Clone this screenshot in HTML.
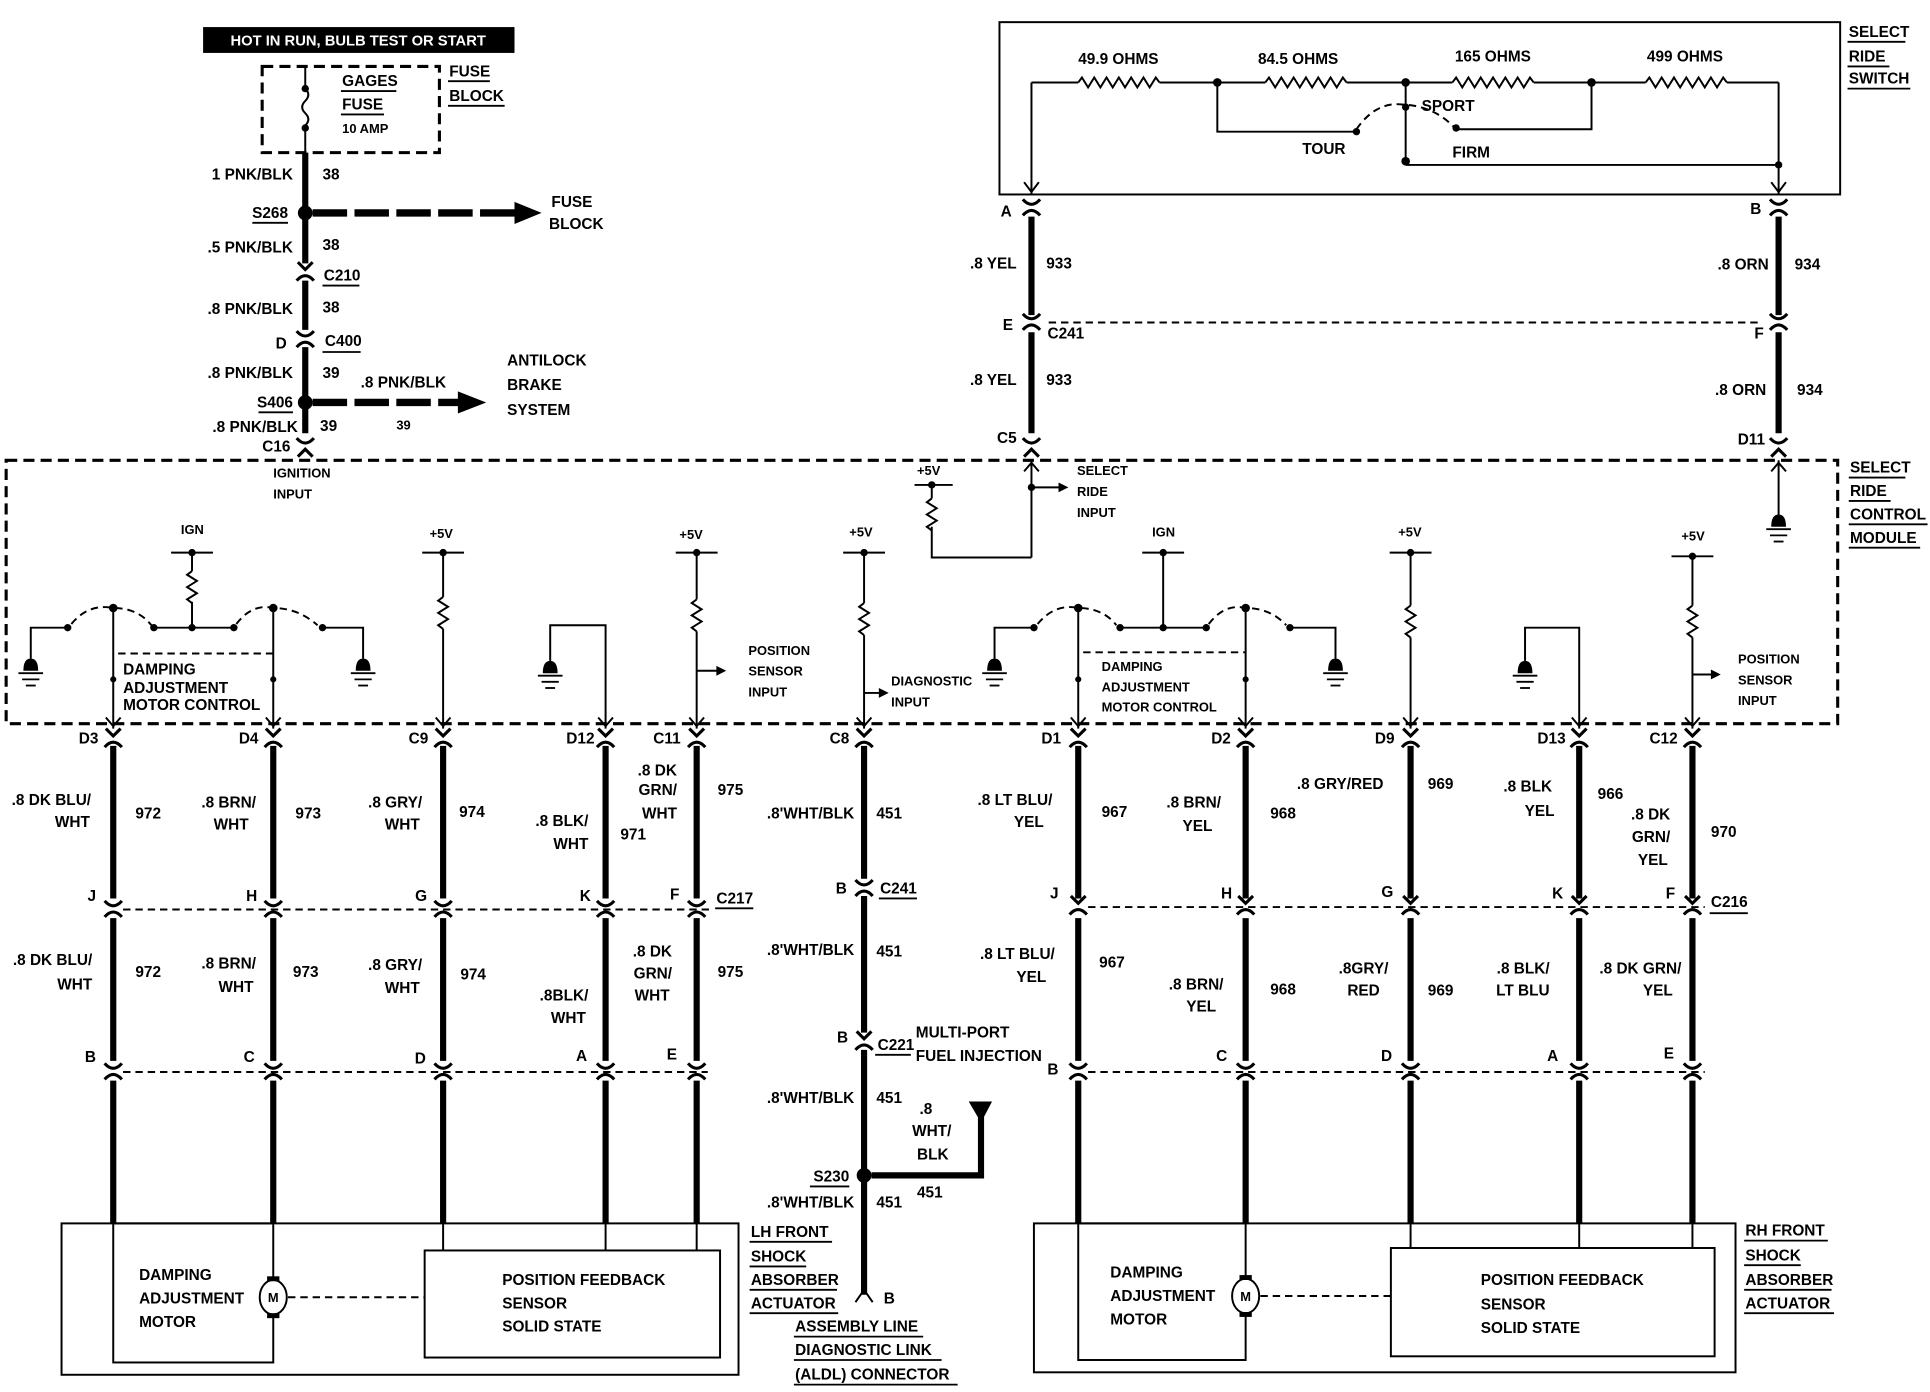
<!DOCTYPE html>
<html><head><meta charset="utf-8"><style>
html,body{margin:0;padding:0;background:#fff}
svg{display:block}
text{font-family:"Liberation Sans Narrow","Liberation Sans",sans-serif;font-weight:bold;font-size:12.5px;fill:#000}
.s{font-size:10.5px}
.t{stroke:#000;stroke-width:1.6;fill:none}
.w{stroke:#000;stroke-width:5;fill:none}
.d{stroke:#000;stroke-width:1.6;fill:none;stroke-dasharray:6,4}
.bd{stroke:#000;stroke-width:2.5;fill:none;stroke-dasharray:9,5}
.u{stroke:#000;stroke-width:1.5}
</style></head><body>
<svg width="1930" height="1392" viewBox="0 0 1568 1131" preserveAspectRatio="none" xmlns="http://www.w3.org/2000/svg">
<defs>
<g id="cn"><path d="M-6,-9 L0,-3 L6,-9" stroke="#000" stroke-width="2.5" fill="none"/><path d="M-7,6 Q0,-2 7,6" stroke="#000" stroke-width="2.5" fill="none"/></g>
<g id="cu"><path d="M-7,-7 Q0,1 7,-7" stroke="#000" stroke-width="2.5" fill="none"/><path d="M-7,6 Q0,-2 7,6" stroke="#000" stroke-width="2.5" fill="none"/></g>
<g id="gnd"><path d="M-6,0 Q-6,-10 0,-10 Q6,-10 6,0 Z" fill="#000"/><line x1="-10" y1="2" x2="10" y2="2" class="u" stroke-width="2"/><line x1="-7" y1="7" x2="7" y2="7" class="u" stroke-width="2"/><line x1="-4" y1="12" x2="4" y2="12" class="u" stroke-width="2"/></g>
<path id="res" d="M0,0 l-4,3 l8,5 l-8,5 l8,5 l-8,5 l4,3" stroke="#000" stroke-width="1.6" fill="none"/>
<polyline id="hres" points="0,0 3,-4 8,4 13,-4 18,4 23,-4 28,4 33,-4 38,4 43,-4 48,4 53,-4 58,4 63,-4 66,0" stroke="#000" stroke-width="1.6" fill="none"/>
</defs>

<!-- top left supply -->
<rect x="165" y="22" width="253" height="21" fill="#000"/>
<text x="291" y="37" text-anchor="middle" style="fill:#fff;font-family:'Liberation Sans',sans-serif;font-size:12px">HOT IN RUN, BULB TEST OR START</text>
<rect x="213" y="54" width="144" height="70" class="bd" stroke-width="2"/>
<line x1="248" y1="54" x2="248" y2="70" class="t"/><circle cx="248" cy="72" r="3"/>
<path d="M248,72 q5,5 0,10 q-5,5 0,10 q5,5 0,10" class="t"/><circle cx="248" cy="104" r="3"/>
<line x1="248" y1="104" x2="248" y2="124" class="t"/>
<text x="278" y="70">GAGES</text><line x1="277" y1="74" x2="322" y2="74" class="u"/>
<text x="278" y="89">FUSE</text><line x1="277" y1="93" x2="312" y2="93" class="u"/>
<text x="278" y="108" class="s">10 AMP</text>
<text x="365" y="62">FUSE</text><line x1="364" y1="66" x2="398" y2="66" class="u"/>
<text x="365" y="82">BLOCK</text><line x1="364" y1="86" x2="410" y2="86" class="u"/>
<line x1="248" y1="124" x2="248" y2="214" class="w"/>
<line x1="248" y1="228" x2="248" y2="268" class="w"/>
<line x1="248" y1="282" x2="248" y2="352" class="w"/>
<circle cx="248" cy="173" r="6"/><circle cx="248" cy="327" r="6"/>
<path d="M254,173 H420" stroke="#000" stroke-width="6" stroke-dasharray="28,6"/><path d="M418,164 L440,173 L418,182Z"/>
<path d="M254,327 H375" stroke="#000" stroke-width="6" stroke-dasharray="28,6"/><path d="M372,318 L395,327 L372,336Z"/>
<use href="#cn" x="248" y="222"/><use href="#cu" transform="translate(248,275) rotate(180)"/><use href="#cn" transform="translate(248,362) rotate(180)"/>
<text x="238" y="146" text-anchor="end">1 PNK/BLK</text><text x="262" y="146">38</text>
<text x="234" y="177" text-anchor="end">S268</text><line x1="205" y1="181" x2="234" y2="181" class="u"/>
<text x="448" y="168">FUSE</text><text x="446" y="186">BLOCK</text>
<text x="238" y="205" text-anchor="end">.5 PNK/BLK</text><text x="262" y="203">38</text>
<text x="263" y="228">C210</text><line x1="262" y1="232" x2="292" y2="232" class="u"/>
<text x="238" y="255" text-anchor="end">.8 PNK/BLK</text><text x="262" y="254">38</text>
<text x="233" y="283" text-anchor="end">D</text><text x="264" y="281">C400</text><line x1="262" y1="286" x2="293" y2="286" class="u"/>
<text x="238" y="307" text-anchor="end">.8 PNK/BLK</text><text x="262" y="307">39</text>
<text x="293" y="315">.8 PNK/BLK</text>
<text x="412" y="297">ANTILOCK</text><text x="412" y="317">BRAKE</text><text x="412" y="337">SYSTEM</text>
<text x="238" y="331" text-anchor="end">S406</text><line x1="210" y1="335" x2="238" y2="335" class="u"/>
<text x="242" y="351" text-anchor="end">.8 PNK/BLK</text><text x="260" y="350">39</text><text x="322" y="349" class="s">39</text>
<text x="236" y="367" text-anchor="end">C16</text>
<text x="222" y="388" class="s">IGNITION</text><text x="222" y="405" class="s">INPUT</text>

<!-- select ride switch -->
<rect x="812" y="18" width="683" height="140" class="t" stroke-width="2"/>
<text x="1502" y="30">SELECT</text><line x1="1501" y1="34" x2="1548" y2="34" class="u"/>
<text x="1502" y="50">RIDE</text><line x1="1501" y1="54" x2="1535" y2="54" class="u"/>
<text x="1502" y="68">SWITCH</text><line x1="1501" y1="72" x2="1552" y2="72" class="u"/>
<text x="876" y="52">49.9 OHMS</text><text x="1022" y="52">84.5 OHMS</text><text x="1182" y="50">165 OHMS</text><text x="1338" y="50">499 OHMS</text>
<line x1="838" y1="67" x2="876" y2="67" class="t"/><use href="#hres" x="876" y="67"/><line x1="942" y1="67" x2="1028" y2="67" class="t"/>
<use href="#hres" x="1028" y="67"/><line x1="1094" y1="67" x2="1180" y2="67" class="t"/>
<use href="#hres" x="1180" y="67"/><line x1="1246" y1="67" x2="1337" y2="67" class="t"/>
<use href="#hres" x="1337" y="67"/><line x1="1403" y1="67" x2="1445" y2="67" class="t"/>
<circle cx="989" cy="67" r="3.5"/><circle cx="1142" cy="67" r="3.5"/><circle cx="1293" cy="67" r="3.5"/>
<path d="M989,67 V107 H1102" class="t"/><path d="M1293,67 V105 H1185" class="t"/>
<line x1="1142" y1="67" x2="1142" y2="134" class="t"/><circle cx="1142" cy="87" r="3"/><circle cx="1142" cy="131" r="3.5"/>
<path d="M1102,105 Q1118,82 1140,85 Q1165,86 1182,104" class="d"/><circle cx="1102" cy="107" r="3"/><circle cx="1183" cy="104" r="3"/>
<line x1="1142" y1="134" x2="1445" y2="134" class="t"/>
<text x="1155" y="90">SPORT</text><text x="1058" y="125">TOUR</text><text x="1180" y="128">FIRM</text>
<line x1="838" y1="67" x2="838" y2="158" class="t"/><path d="M832,148 L838,156 L844,148" class="t"/>
<line x1="1445" y1="67" x2="1445" y2="158" class="t"/><circle cx="1445" cy="134" r="3"/><path d="M1439,148 L1445,156 L1451,148" class="t"/>
<use href="#cu" transform="translate(838,168) rotate(180)"/><use href="#cu" transform="translate(1445,168) rotate(180)"/>
<line x1="838" y1="176" x2="838" y2="256" class="w" stroke-width="3"/>
<line x1="838" y1="270" x2="838" y2="352" class="w" stroke-width="3"/>
<line x1="1445" y1="176" x2="1445" y2="256" class="w" stroke-width="6"/>
<line x1="1445" y1="270" x2="1445" y2="352" class="w" stroke-width="6"/>
<use href="#cu" x="838" y="262"/><use href="#cu" x="1445" y="262"/>
<use href="#cn" transform="translate(838,362) rotate(180)"/><use href="#cn" transform="translate(1445,362) rotate(180)"/>
<line x1="852" y1="262" x2="1432" y2="262" class="d"/>
<text x="822" y="176" text-anchor="end">A</text><text x="1431" y="174" text-anchor="end">B</text>
<text x="826" y="218" text-anchor="end">.8 YEL</text><text x="850" y="218">933</text>
<text x="1437" y="219" text-anchor="end">.8 ORN</text><text x="1458" y="219">934</text>
<text x="823" y="268" text-anchor="end">E</text><text x="851" y="275">C241</text>
<text x="1433" y="275" text-anchor="end">F</text>
<text x="826" y="313" text-anchor="end">.8 YEL</text><text x="850" y="313">933</text>
<text x="1435" y="321" text-anchor="end">.8 ORN</text><text x="1460" y="321">934</text>
<text x="826" y="360" text-anchor="end">C5</text><text x="1434" y="361" text-anchor="end">D11</text>

<!-- module dashed box -->
<rect x="5" y="374" width="1488" height="214" class="bd"/>
<text x="1503" y="384">SELECT</text><line x1="1502" y1="388" x2="1548" y2="388" class="u"/>
<text x="1503" y="403">RIDE</text><line x1="1502" y1="407" x2="1536" y2="407" class="u"/>
<text x="1503" y="422">CONTROL</text><line x1="1502" y1="426" x2="1566" y2="426" class="u"/>
<text x="1503" y="441">MODULE</text><line x1="1502" y1="445" x2="1560" y2="445" class="u"/>

<!-- C5 select ride input -->
<line x1="838" y1="374" x2="838" y2="453" class="t"/><path d="M832,383 L838,376 L844,383" class="t"/>
<circle cx="838" cy="396" r="3"/><line x1="838" y1="396" x2="862" y2="396" class="t"/><path d="M860,392 L868,396 L860,400Z"/>
<text x="875" y="386" class="s">SELECT</text><text x="875" y="403" class="s">RIDE</text><text x="875" y="420" class="s">INPUT</text>
<path d="M838,453 H757 V428" class="t"/><use href="#res" x="757" y="405"/><line x1="757" y1="394" x2="757" y2="405" class="t"/>
<line x1="743" y1="394" x2="774" y2="394" class="t"/><circle cx="757" cy="394" r="3"/><text x="745" y="386" class="s">+5V</text>
<!-- D11 ground -->
<line x1="1445" y1="374" x2="1445" y2="420" class="t"/><path d="M1439,383 L1445,376 L1451,383" class="t"/><use href="#gnd" x="1445" y="428"/>

<!-- left damping group -->
<use href="#gnd" x="25" y="545"/><path d="M25,535 V510 H55" class="t"/>
<circle cx="55" cy="510" r="3"/><path d="M58,507 Q72,490 92,494 Q112,494 123,508" class="d"/><circle cx="125" cy="510" r="3"/>
<circle cx="92" cy="494" r="3.5"/><line x1="92" y1="494" x2="92" y2="592" class="t"/>
<line x1="125" y1="510" x2="190" y2="510" class="t"/><circle cx="156" cy="510" r="3"/>
<line x1="156" y1="510" x2="156" y2="489" class="t"/><use href="#res" x="156" y="464"/><line x1="156" y1="449" x2="156" y2="464" class="t"/>
<line x1="139" y1="449" x2="173" y2="449" class="t"/><circle cx="156" cy="449" r="3"/><text x="147" y="434" class="s">IGN</text>
<circle cx="190" cy="510" r="3"/><path d="M192,507 Q205,490 222,494 Q242,494 258,508" class="d"/><circle cx="262" cy="510" r="3"/>
<circle cx="222" cy="494" r="3.5"/><line x1="222" y1="494" x2="222" y2="592" class="t"/>
<path d="M262,510 H295 V535" class="t"/><use href="#gnd" x="295" y="545"/>
<line x1="96" y1="531" x2="222" y2="531" class="d"/><circle cx="92" cy="552" r="2.5"/><circle cx="222" cy="552" r="2.5"/>
<text x="100" y="548">DAMPING</text><text x="100" y="563">ADJUSTMENT</text><text x="100" y="577">MOTOR CONTROL</text>

<!-- C9 -->
<line x1="343" y1="449" x2="377" y2="449" class="t"/><circle cx="360" cy="449" r="3"/><text x="349" y="437" class="s">+5V</text>
<line x1="360" y1="449" x2="360" y2="485" class="t"/><use href="#res" x="360" y="485"/><line x1="360" y1="511" x2="360" y2="592" class="t"/>
<!-- D12 -->
<use href="#gnd" x="447" y="547"/><path d="M447,537 V508 H492 V592" class="t"/>
<!-- C11 -->
<line x1="549" y1="449" x2="583" y2="449" class="t"/><circle cx="566" cy="449" r="3"/><text x="552" y="438" class="s">+5V</text>
<line x1="566" y1="449" x2="566" y2="487" class="t"/><use href="#res" x="566" y="487"/><line x1="566" y1="513" x2="566" y2="592" class="t"/>
<line x1="566" y1="545" x2="584" y2="545" class="t"/><path d="M582,541 L590,545 L582,549Z"/>
<text x="608" y="532" class="s">POSITION</text><text x="608" y="549" class="s">SENSOR</text><text x="608" y="566" class="s">INPUT</text>
<!-- C8 -->
<line x1="685" y1="449" x2="719" y2="449" class="t"/><circle cx="702" cy="449" r="3"/><text x="690" y="436" class="s">+5V</text>
<line x1="702" y1="449" x2="702" y2="490" class="t"/><use href="#res" x="702" y="490"/><line x1="702" y1="516" x2="702" y2="592" class="t"/>
<line x1="702" y1="563" x2="716" y2="563" class="t"/><path d="M714,559 L722,563 L714,567Z"/>
<text x="724" y="557" class="s">DIAGNOSTIC</text><text x="724" y="574" class="s">INPUT</text>

<!-- right damping group -->
<use href="#gnd" x="808" y="545"/><path d="M808,535 V510 H840" class="t"/>
<circle cx="840" cy="510" r="3"/><path d="M843,507 Q857,490 876,494 Q896,494 907,508" class="d"/><circle cx="910" cy="510" r="3"/>
<circle cx="876" cy="494" r="3.5"/><line x1="876" y1="494" x2="876" y2="592" class="t"/>
<line x1="910" y1="510" x2="980" y2="510" class="t"/><circle cx="945" cy="510" r="3"/>
<line x1="945" y1="449" x2="945" y2="510" class="t"/><line x1="928" y1="449" x2="962" y2="449" class="t"/><circle cx="945" cy="449" r="3"/><text x="936" y="436" class="s">IGN</text>
<circle cx="980" cy="510" r="3"/><path d="M982,507 Q995,490 1012,494 Q1032,494 1045,508" class="d"/><circle cx="1048" cy="510" r="3"/>
<circle cx="1012" cy="494" r="3.5"/><line x1="1012" y1="494" x2="1012" y2="592" class="t"/>
<path d="M1048,510 H1085 V535" class="t"/><use href="#gnd" x="1085" y="545"/>
<line x1="880" y1="530" x2="1012" y2="530" class="d"/><circle cx="876" cy="552" r="2.5"/><circle cx="1012" cy="552" r="2.5"/>
<text x="895" y="545" class="s">DAMPING</text><text x="895" y="562" class="s">ADJUSTMENT</text><text x="895" y="578" class="s">MOTOR CONTROL</text>
<!-- D9 -->
<line x1="1129" y1="449" x2="1163" y2="449" class="t"/><circle cx="1146" cy="449" r="3"/><text x="1136" y="436" class="s">+5V</text>
<line x1="1146" y1="449" x2="1146" y2="492" class="t"/><use href="#res" x="1146" y="492"/><line x1="1146" y1="518" x2="1146" y2="592" class="t"/>
<!-- D13 -->
<use href="#gnd" x="1239" y="547"/><path d="M1239,537 V510 H1283 V592" class="t"/>
<!-- C12 -->
<line x1="1358" y1="452" x2="1392" y2="452" class="t"/><circle cx="1375" cy="452" r="3"/><text x="1366" y="439" class="s">+5V</text>
<line x1="1375" y1="452" x2="1375" y2="492" class="t"/><use href="#res" x="1375" y="492"/><line x1="1375" y1="518" x2="1375" y2="592" class="t"/>
<line x1="1375" y1="548" x2="1392" y2="548" class="t"/><path d="M1390,544 L1398,548 L1390,552Z"/>
<text x="1412" y="539" class="s">POSITION</text><text x="1412" y="556" class="s">SENSOR</text><text x="1412" y="573" class="s">INPUT</text>

<!-- arrow heads into module bottom -->
<g class="t">
<path d="M86,583 L92,590 L98,583"/><path d="M216,583 L222,590 L228,583"/><path d="M354,583 L360,590 L366,583"/><path d="M486,583 L492,590 L498,583"/><path d="M560,583 L566,590 L572,583"/><path d="M696,583 L702,590 L708,583"/>
<path d="M870,583 L876,590 L882,583"/><path d="M1006,583 L1012,590 L1018,583"/><path d="M1140,583 L1146,590 L1152,583"/><path d="M1277,583 L1283,590 L1289,583"/><path d="M1369,583 L1375,590 L1381,583"/>
</g>

<!-- harness wires -->
<g class="w">
<path d="M92,606 V730 M92,746 V862 M92,878 V994"/>
<path d="M222,606 V730 M222,746 V862 M222,878 V994"/>
<path d="M360,606 V730 M360,746 V862 M360,878 V994"/>
<path d="M492,606 V730 M492,746 V862 M492,878 V994"/>
<path d="M566,606 V730 M566,746 V862 M566,878 V994"/>
<path d="M702,606 V714 M702,728 V839 M702,853 V1052"/>
<path d="M876,606 V730 M876,746 V862 M876,878 V994"/>
<path d="M1012,606 V730 M1012,746 V862 M1012,878 V994"/>
<path d="M1146,606 V730 M1146,746 V862 M1146,878 V994"/>
<path d="M1283,606 V730 M1283,746 V862 M1283,878 V994"/>
<path d="M1375,606 V730 M1375,746 V862 M1375,878 V994"/>
</g>
<g>
<use href="#cn" x="92" y="601"/><use href="#cn" x="222" y="601"/><use href="#cn" x="360" y="601"/><use href="#cn" x="492" y="601"/><use href="#cn" x="566" y="601"/><use href="#cn" x="702" y="601"/>
<use href="#cn" x="876" y="601"/><use href="#cn" x="1012" y="601"/><use href="#cn" x="1146" y="601"/><use href="#cn" x="1283" y="601"/><use href="#cn" x="1375" y="601"/>
<use href="#cu" transform="translate(92,738) rotate(180)"/><use href="#cu" transform="translate(222,738) rotate(180)"/><use href="#cu" transform="translate(360,738) rotate(180)"/><use href="#cu" transform="translate(492,738) rotate(180)"/><use href="#cu" transform="translate(566,738) rotate(180)"/>
<use href="#cn" x="876" y="737"/><use href="#cn" x="1012" y="737"/><use href="#cn" x="1146" y="737"/><use href="#cn" x="1283" y="737"/><use href="#cn" x="1375" y="737"/>
<use href="#cu" transform="translate(92,870) rotate(180)"/><use href="#cu" transform="translate(222,870) rotate(180)"/><use href="#cu" transform="translate(360,870) rotate(180)"/><use href="#cu" transform="translate(492,870) rotate(180)"/><use href="#cu" transform="translate(566,870) rotate(180)"/>
<use href="#cu" transform="translate(876,870) rotate(180)"/><use href="#cu" transform="translate(1012,870) rotate(180)"/><use href="#cu" transform="translate(1146,870) rotate(180)"/><use href="#cu" transform="translate(1283,870) rotate(180)"/><use href="#cu" transform="translate(1375,870) rotate(180)"/>
<use href="#cu" transform="translate(702,721) rotate(180)"/><use href="#cn" x="702" y="847"/>
</g>
<line x1="100" y1="739" x2="580" y2="739" class="d"/><line x1="100" y1="871" x2="575" y2="871" class="d"/>
<line x1="884" y1="737" x2="1385" y2="737" class="d"/><line x1="884" y1="871" x2="1385" y2="871" class="d"/>

<!-- LH labels -->
<text x="80" y="604" text-anchor="end">D3</text><text x="210" y="604" text-anchor="end">D4</text><text x="348" y="604" text-anchor="end">C9</text><text x="483" y="604" text-anchor="end">D12</text><text x="553" y="604" text-anchor="end">C11</text><text x="690" y="604" text-anchor="end">C8</text>
<text x="74" y="654" text-anchor="end">.8 DK BLU/</text><text x="73" y="672" text-anchor="end">WHT</text><text x="110" y="665">972</text>
<text x="208" y="656" text-anchor="end">.8 BRN/</text><text x="202" y="674" text-anchor="end">WHT</text><text x="240" y="665">973</text>
<text x="343" y="656" text-anchor="end">.8 GRY/</text><text x="341" y="674" text-anchor="end">WHT</text><text x="373" y="664">974</text>
<text x="478" y="671" text-anchor="end">.8 BLK/</text><text x="478" y="690" text-anchor="end">WHT</text><text x="504" y="682">971</text>
<text x="550" y="630" text-anchor="end">.8 DK</text><text x="550" y="646" text-anchor="end">GRN/</text><text x="550" y="665" text-anchor="end">WHT</text><text x="583" y="646">975</text>
<text x="694" y="665" text-anchor="end">.8'WHT/BLK</text><text x="712" y="665">451</text>
<text x="78" y="732" text-anchor="end">J</text><text x="209" y="732" text-anchor="end">H</text><text x="347" y="732" text-anchor="end">G</text><text x="480" y="732" text-anchor="end">K</text><text x="552" y="731" text-anchor="end">F</text>
<text x="582" y="734">C217</text><line x1="581" y1="738" x2="612" y2="738" class="u"/>
<text x="688" y="726" text-anchor="end">B</text><text x="715" y="726">C241</text><line x1="714" y1="730" x2="745" y2="730" class="u"/>
<text x="75" y="784" text-anchor="end">.8 DK BLU/</text><text x="75" y="804" text-anchor="end">WHT</text><text x="110" y="794">972</text>
<text x="208" y="787" text-anchor="end">.8 BRN/</text><text x="206" y="806" text-anchor="end">WHT</text><text x="238" y="794">973</text>
<text x="343" y="788" text-anchor="end">.8 GRY/</text><text x="341" y="807" text-anchor="end">WHT</text><text x="374" y="796">974</text>
<text x="478" y="813" text-anchor="end">.8BLK/</text><text x="476" y="831" text-anchor="end">WHT</text>
<text x="546" y="777" text-anchor="end">.8 DK</text><text x="546" y="795" text-anchor="end">GRN/</text><text x="544" y="813" text-anchor="end">WHT</text><text x="583" y="794">975</text>
<text x="694" y="776" text-anchor="end">.8'WHT/BLK</text><text x="712" y="777">451</text>
<text x="78" y="863" text-anchor="end">B</text><text x="207" y="863" text-anchor="end">C</text><text x="346" y="864" text-anchor="end">D</text><text x="477" y="862" text-anchor="end">A</text><text x="550" y="861" text-anchor="end">E</text>
<text x="689" y="847" text-anchor="end">B</text><text x="713" y="853">C221</text><line x1="711" y1="857" x2="740" y2="857" class="u"/>
<text x="744" y="843">MULTI-PORT</text><text x="744" y="862">FUEL INJECTION</text>
<text x="694" y="896" text-anchor="end">.8'WHT/BLK</text><text x="712" y="896">451</text>
<text x="747" y="905">.8</text><text x="741" y="923">WHT/</text><text x="745" y="942">BLK</text>
<circle cx="702" cy="955" r="6"/><text x="690" y="960" text-anchor="end">S230</text><line x1="658" y1="964" x2="690" y2="964" class="u"/>
<path d="M708,955 H797 V905" class="w" stroke-width="4"/><path d="M787,895 L797,912 L806,895Z"/>
<text x="745" y="973">451</text>
<text x="694" y="981" text-anchor="end">.8'WHT/BLK</text><text x="712" y="981">451</text>
<path d="M695,1058 L702,1048 L709,1058" class="t" stroke-width="2.5"/><text x="718" y="1059">B</text>
<text x="646" y="1082">ASSEMBLY LINE</text><line x1="645" y1="1086" x2="750" y2="1086" class="u"/>
<text x="646" y="1101">DIAGNOSTIC LINK</text><line x1="645" y1="1105" x2="765" y2="1105" class="u"/>
<text x="646" y="1121">(ALDL) CONNECTOR</text><line x1="645" y1="1125" x2="778" y2="1125" class="u"/>
<text x="610" y="1005">LH FRONT</text><line x1="609" y1="1009" x2="676" y2="1009" class="u"/>
<text x="610" y="1025">SHOCK</text><line x1="609" y1="1029" x2="655" y2="1029" class="u"/>
<text x="610" y="1044">ABSORBER</text><line x1="609" y1="1048" x2="680" y2="1048" class="u"/>
<text x="610" y="1063">ACTUATOR</text><line x1="609" y1="1067" x2="681" y2="1067" class="u"/>

<!-- LH actuator box -->
<rect x="50" y="994" width="550" height="123" class="t"/>
<rect x="92" y="994" width="130" height="113" class="t"/>
<line x1="360" y1="994" x2="360" y2="1016" class="t"/><line x1="492" y1="994" x2="492" y2="1016" class="t"/><line x1="566" y1="994" x2="566" y2="1016" class="t"/>
<rect x="345" y="1016" width="240" height="87" class="t"/>
<ellipse cx="222" cy="1054" rx="11" ry="14" fill="#fff" stroke="#000" stroke-width="1.6"/><rect x="217" y="1037" width="10" height="4"/><rect x="217" y="1067" width="10" height="4"/>
<text x="222" y="1058" text-anchor="middle" class="s">M</text>
<line x1="234" y1="1054" x2="345" y2="1054" class="d"/>
<text x="113" y="1040">DAMPING</text><text x="113" y="1059">ADJUSTMENT</text><text x="113" y="1078">MOTOR</text>
<text x="408" y="1044">POSITION FEEDBACK</text><text x="408" y="1063">SENSOR</text><text x="408" y="1082">SOLID STATE</text>

<!-- RH labels -->
<text x="862" y="604" text-anchor="end">D1</text><text x="1000" y="604" text-anchor="end">D2</text><text x="1133" y="604" text-anchor="end">D9</text><text x="1272" y="604" text-anchor="end">D13</text><text x="1363" y="604" text-anchor="end">C12</text>
<text x="855" y="654" text-anchor="end">.8 LT BLU/</text><text x="848" y="672" text-anchor="end">YEL</text><text x="895" y="664">967</text>
<text x="992" y="656" text-anchor="end">.8 BRN/</text><text x="985" y="675" text-anchor="end">YEL</text><text x="1032" y="665">968</text>
<text x="1124" y="641" text-anchor="end">.8 GRY/RED</text><text x="1160" y="641">969</text>
<text x="1261" y="643" text-anchor="end">.8 BLK</text><text x="1263" y="663" text-anchor="end">YEL</text><text x="1298" y="649">966</text>
<text x="1357" y="666" text-anchor="end">.8 DK</text><text x="1357" y="684" text-anchor="end">GRN/</text><text x="1355" y="703" text-anchor="end">YEL</text><text x="1390" y="680">970</text>
<text x="860" y="730" text-anchor="end">J</text><text x="1001" y="730" text-anchor="end">H</text><text x="1132" y="729" text-anchor="end">G</text><text x="1270" y="730" text-anchor="end">K</text><text x="1361" y="730" text-anchor="end">F</text>
<text x="1390" y="737">C216</text><line x1="1389" y1="742" x2="1420" y2="742" class="u"/>
<text x="857" y="779" text-anchor="end">.8 LT BLU/</text><text x="850" y="798" text-anchor="end">YEL</text><text x="893" y="786">967</text>
<text x="994" y="804" text-anchor="end">.8 BRN/</text><text x="988" y="822" text-anchor="end">YEL</text><text x="1032" y="808">968</text>
<text x="1128" y="791" text-anchor="end">.8GRY/</text><text x="1121" y="809" text-anchor="end">RED</text><text x="1160" y="809">969</text>
<text x="1259" y="791" text-anchor="end">.8 BLK/</text><text x="1259" y="809" text-anchor="end">LT BLU</text>
<text x="1366" y="791" text-anchor="end">.8 DK GRN/</text><text x="1359" y="809" text-anchor="end">YEL</text>
<text x="860" y="873" text-anchor="end">B</text><text x="997" y="862" text-anchor="end">C</text><text x="1131" y="862" text-anchor="end">D</text><text x="1266" y="862" text-anchor="end">A</text><text x="1360" y="860" text-anchor="end">E</text>
<text x="1418" y="1004">RH FRONT</text><line x1="1417" y1="1008" x2="1485" y2="1008" class="u"/>
<text x="1418" y="1024">SHOCK</text><line x1="1417" y1="1028" x2="1463" y2="1028" class="u"/>
<text x="1418" y="1044">ABSORBER</text><line x1="1417" y1="1048" x2="1488" y2="1048" class="u"/>
<text x="1418" y="1063">ACTUATOR</text><line x1="1417" y1="1067" x2="1490" y2="1067" class="u"/>

<!-- RH actuator box -->
<rect x="840" y="994" width="570" height="121" class="t"/>
<rect x="876" y="994" width="136" height="111" class="t"/>
<line x1="1146" y1="994" x2="1146" y2="1014" class="t"/><line x1="1283" y1="994" x2="1283" y2="1014" class="t"/><line x1="1375" y1="994" x2="1375" y2="1014" class="t"/>
<rect x="1130" y="1014" width="263" height="88" class="t"/>
<ellipse cx="1012" cy="1053" rx="11" ry="14" fill="#fff" stroke="#000" stroke-width="1.6"/><rect x="1007" y="1036" width="10" height="4"/><rect x="1007" y="1066" width="10" height="4"/>
<text x="1012" y="1057" text-anchor="middle" class="s">M</text>
<line x1="1024" y1="1053" x2="1130" y2="1053" class="d"/>
<text x="902" y="1038">DAMPING</text><text x="902" y="1057">ADJUSTMENT</text><text x="902" y="1076">MOTOR</text>
<text x="1203" y="1044">POSITION FEEDBACK</text><text x="1203" y="1064">SENSOR</text><text x="1203" y="1083">SOLID STATE</text>
</svg>
</body></html>
